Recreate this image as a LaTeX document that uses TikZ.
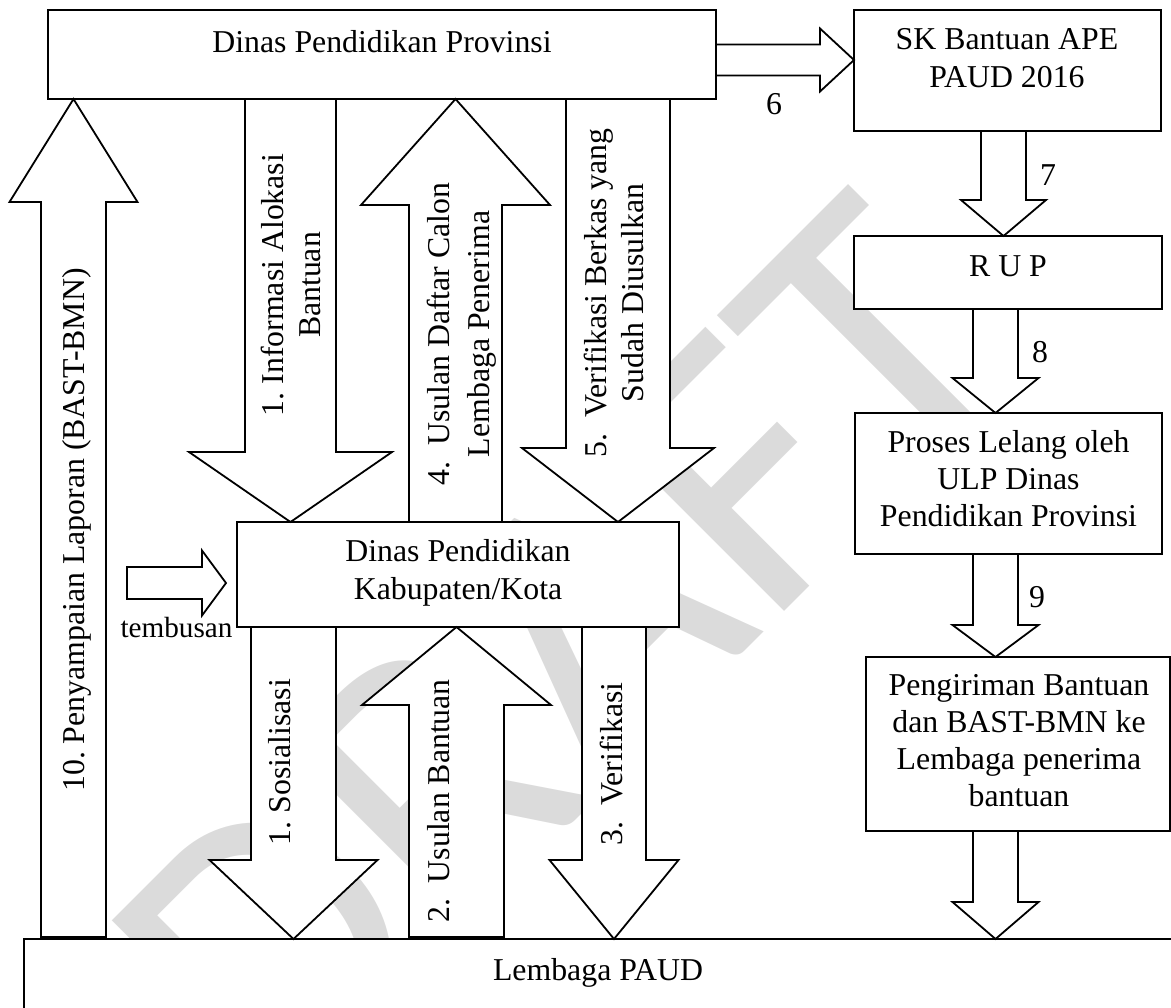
\documentclass[tikz,border=0pt]{standalone}
\usepackage{fontspec}
\setmainfont{Liberation Serif}
\newfontfamily\wmfont{Carlito}
\usetikzlibrary{calc}
\frenchspacing
% box from corner (#2,#3) to corner (#4,#5), in pixel units
\newcommand{\PBox}[5]{\node[box, minimum width={(#4-#2)*0.5pt}, minimum height={(#5-#3)*0.5pt}] (#1) at ({(#2+#4)/2},{(#3+#5)/2}) {};}
% block arrows: #1 axis coordinate, #2 tail anchor, #3 tip anchor, #4 shaft half width, #5 head half width, #6 head length
\newcommand{\DArrow}[6]{\draw[blk] ($(#1|-#2)+(-#4,0)$) -- ($(#1|-#3)+(-#4,-#6)$) -- ($(#1|-#3)+(-#5,-#6)$) -- (#1|-#3) -- ($(#1|-#3)+(#5,-#6)$) -- ($(#1|-#3)+(#4,-#6)$) -- ($(#1|-#2)+(#4,0)$) -- cycle;}
\newcommand{\UArrow}[6]{\draw[blk] ($(#1|-#2)+(-#4,0)$) -- ($(#1|-#3)+(-#4,#6)$) -- ($(#1|-#3)+(-#5,#6)$) -- (#1|-#3) -- ($(#1|-#3)+(#5,#6)$) -- ($(#1|-#3)+(#4,#6)$) -- ($(#1|-#2)+(#4,0)$) -- cycle;}
\newcommand{\RArrow}[6]{\draw[blk] ($(#1-|#2)+(0,-#4)$) -- ($(#1-|#3)+(-#6,-#4)$) -- ($(#1-|#3)+(-#6,-#5)$) -- (#1-|#3) -- ($(#1-|#3)+(-#6,#5)$) -- ($(#1-|#3)+(-#6,#4)$) -- ($(#1-|#2)+(0,#4)$) -- cycle;}
\begin{document}
\begin{tikzpicture}[x=0.5pt,y=-0.5pt,
  box/.style={draw, fill=white, line width=0.9pt, inner sep=0pt, outer sep=0pt},
  blk/.style={draw, fill=white, line width=0.9pt, line join=miter},
  txt/.style={inner sep=0pt, font=\fontsize{15.9}{18.75}\selectfont\frenchspacing},
  htxt/.style={txt, anchor=base},
  vtxt/.style={txt, anchor=base, rotate=90},
  wm/.style={inner sep=0pt, anchor=base west, rotate=45, text=black!14, font=\wmfont\fontsize{200}{200}\selectfont}]
\useasboundingbox (0,0) rectangle (1171,1007);
\clip (0,0) rectangle (1171,1007);
% watermark
\node[wm] (wmark) at (274,1122) {DRAFT};
% boxes
\PBox{prov}{48}{10}{716}{99}
\PBox{sk}{854}{10}{1161}{131}
\PBox{rup}{854}{236}{1162}{309}
\PBox{proses}{855}{413}{1162}{554}
\PBox{kirim}{866}{657}{1170}{831}
\PBox{kab}{237}{522}{679}{627}
\PBox{paud}{24}{939}{1220}{1080}
% arrow axes and free ends
\coordinate (xa10) at (73.5,0);
\coordinate (xa1) at (290.5,0);
\coordinate (xa4) at (455.5,0);
\coordinate (xa5) at (618,0);
\coordinate (ya6) at (0,60);
\coordinate (xa7) at (1003.5,0);
\coordinate (xa8) at (995.5,0);
\coordinate (xs1) at (293.5,0);
\coordinate (xs2) at (456.5,0);
\coordinate (xs3) at (614,0);
\coordinate (tbtail) at (127,583);
\coordinate (tbtip) at (226,583);
\coordinate (paudtop) at ($(paud.north)+(0,-2)$);
% block arrows
\UArrow{xa10}{paudtop}{prov.south}{32.5}{64}{103}
\DArrow{xa1}{prov.south}{kab.north}{45.5}{101.5}{70}
\UArrow{xa4}{kab.north}{prov.south}{46.5}{94.5}{106}
\DArrow{xa5}{prov.south}{kab.north}{52}{96}{74}
\RArrow{ya6}{prov.east}{sk.west}{15.5}{31.5}{34}
\DArrow{xa7}{sk.south}{rup.north}{22.5}{42.5}{36}
\DArrow{xa8}{rup.south}{proses.north}{22.5}{43}{35}
\DArrow{xa8}{proses.south}{kirim.north}{22.5}{43}{32}
\DArrow{xa8}{kirim.south}{paud.north}{22.5}{43}{37}
\DArrow{xs1}{kab.south}{paud.north}{42.5}{84}{79}
\UArrow{xs2}{paudtop}{kab.south}{47.5}{94.5}{78}
\DArrow{xs3}{kab.south}{paud.north}{32}{64.5}{79}
\RArrow{tbtail}{tbtail}{tbtip}{16}{32.5}{24}
% box texts
\node[htxt] (tprov) at (382,52) {Dinas Pendidikan Provinsi};
\node[htxt] (tsk1) at (1007,49) {SK Bantuan APE};
\node[htxt] (tsk2) at (1007,87) {PAUD 2016};
\node[htxt] (trup) at (1008,276) {R U P};
\node[htxt] (tpr1) at (1008.5,452) {Proses Lelang oleh};
\node[htxt] (tpr2) at (1008.5,489) {ULP Dinas};
\node[htxt] (tpr3) at (1008.5,526.5) {Pendidikan Provinsi};
\node[htxt] (tki1) at (1019,695) {Pengiriman Bantuan};
\node[htxt] (tki2) at (1019,732) {dan BAST-BMN ke};
\node[htxt] (tki3) at (1019,769) {Lembaga penerima};
\node[htxt] (tki4) at (1019,806) {bantuan};
\node[htxt] (tkab1) at (458,561) {Dinas Pendidikan};
\node[htxt] (tkab2) at (458,599) {Kabupaten/Kota};
\node[htxt] (tpaud) at (598,980) {Lembaga PAUD};
% arrow labels
\node[htxt, font=\fontsize{14.6}{17}\selectfont] (ttemb) at (176.5,637) {tembusan};
\node[htxt] (t6) at (774,114) {6};
\node[htxt] (t7) at (1048,185) {7};
\node[htxt] (t8) at (1040,362) {8};
\node[htxt] (t9) at (1037,607) {9};
\node[vtxt] (t10) at (84,530) {10. Penyampaian Laporan (BAST-BMN)};
\node[vtxt] (t1a) at (283,285) {1. Informasi Alokasi};
\node[vtxt] (t1b) at (320,285) {Bantuan};
\node[vtxt] (t4a) at (449,334) {4.\ \ Usulan Daftar Calon};
\node[vtxt] (t4b) at (489,334) {Lembaga Penerima};
\node[vtxt] (t5a) at (606,293) {5.\ \ Verifikasi Berkas yang};
\node[vtxt] (t5b) at (643,293) {Sudah Diusulkan};
\node[vtxt] (ts1) at (290,762) {1. Sosialisasi};
\node[vtxt] (ts2) at (449,801) {2.\ \ Usulan Bantuan};
\node[vtxt] (ts3) at (622,764) {3.\ \ Verifikasi};
\end{tikzpicture}
\end{document}
